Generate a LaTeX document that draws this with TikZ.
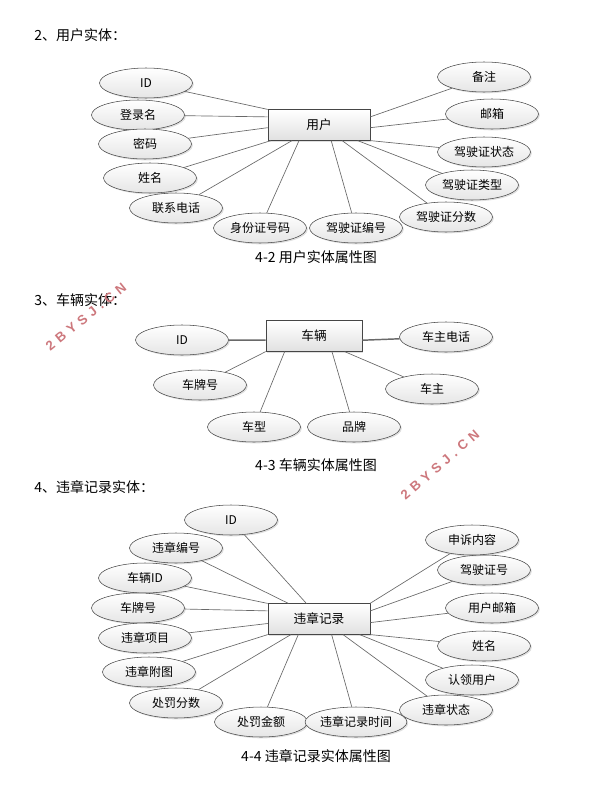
\documentclass[tikz,border=0pt]{standalone}
\usepackage{fontspec}
\setmainfont{Noto Sans CJK SC}
\newfontfamily\wmfont[LetterSpace=36]{Liberation Sans}
\usetikzlibrary{shapes.geometric,shadows}
\definecolor{linegray}{RGB}{105,105,105}
\definecolor{edgegray}{RGB}{70,70,70}
\definecolor{wmred}{RGB}{205,120,125}
\tikzset{
	attr/.style={ellipse, draw=edgegray, top color=white, bottom color=black!10, minimum width=69.75pt, minimum height=22.5pt, inner sep=0pt, font=\fontsize{9}{9}\selectfont, drop shadow={shadow xshift=1pt, shadow yshift=-1pt, opacity=0.25}},
	entity/.style={rectangle, draw=edgegray, top color=white, bottom color=black!12, minimum width=76.5pt, minimum height=23pt, inner sep=0pt, font=\fontsize{9.5}{9.5}\selectfont, drop shadow={shadow xshift=1pt, shadow yshift=-1pt, opacity=0.25}},
	link/.style={draw=linegray, line width=0.5pt},
	head/.style={anchor=west, inner sep=0pt, font=\fontsize{10.5}{10.5}\selectfont},
	figcap/.style={inner sep=0pt, font=\fontsize{10.5}{10.5}\selectfont},
	wmark/.style={text=wmred, inner sep=0pt, font=\wmfont\bfseries\fontsize{10}{10}\selectfont}
}
\begin{document}
\begin{tikzpicture}[x=0.75pt, y=-0.75pt]
	\useasboundingbox (0,0) rectangle (616,796);
	% user
	\node[head] (h1) at (34,35) {2、用户实体：};
	\node[entity] (user) at (319,125) {用户};
	\node[attr] (uid) at (146,83) {ID};
	\node[attr] (ulogin) at (138,115) {登录名};
	\node[attr] (upwd) at (145,144) {密码};
	\node[attr] (uname) at (150,178) {姓名};
	\node[attr] (utel) at (176,208) {联系电话};
	\node[attr] (ucard) at (260,228) {身份证号码};
	\node[attr] (ulicno) at (356,228) {驾驶证编号};
	\node[attr] (ulicpt) at (446,217) {驾驶证分数};
	\node[attr] (ulictype) at (472,185) {驾驶证类型};
	\node[attr] (ulicstate) at (484,152) {驾驶证状态};
	\node[attr] (umail) at (492,114) {邮箱};
	\node[attr] (unote) at (484,77) {备注};
	\foreach \a/\n in {north west/uid, 171/ulogin, 183/upwd, 198/uname, 210/utel, 218/ucard, 308/ulicno, 326/ulicpt, 338/ulictype, south east/ulicstate, 357/umail, 9/unote}
		\draw[link] (user.\a) -- (\n);
	\node[figcap] (c1) at (316,257) {4-2 用户实体属性图};
	% car
	\node[head] (h2) at (34,300) {3、车辆实体：};
	\node[entity, minimum width=72pt] (car) at (314,336) {车辆};
	\node[attr] (cid) at (182,340) {ID};
	\node[attr] (ctel) at (446,337) {车主电话};
	\node[attr] (cplate) at (200,385) {车牌号};
	\node[attr] (cowner) at (432,389) {车主};
	\node[attr] (ctype) at (254,427) {车型};
	\node[attr] (cbrand) at (354,427) {品牌};
	\draw[link, line width=1.1pt] (car.185) -- (cid);
	\draw[link, line width=1.1pt] (car.355) -- (ctel);
	\foreach \a/\n in {south west/cplate, 208/ctype, 319/cbrand, 333/cowner}
		\draw[link] (car.\a) -- (\n);
	\node[figcap] (c2) at (316,465) {4-3 车辆实体属性图};
	% violation
	\node[head] (h3) at (34,487) {4、违章记录实体：};
	\node[entity] (vio) at (319,619) {违章记录};
	\node[attr] (vid) at (231,520) {ID};
	\node[attr] (vno) at (176,548) {违章编号};
	\node[attr] (vcar) at (145,578) {车辆ID};
	\node[attr] (vplate) at (138,608) {车牌号};
	\node[attr] (vitem) at (145,638) {违章项目};
	\node[attr] (vpic) at (149,672) {违章附图};
	\node[attr] (vpt) at (176,703) {处罚分数};
	\node[attr] (vfine) at (261,722) {处罚金额};
	\node[attr] (vtime) at (356,722) {违章记录时间};
	\node[attr] (vstate) at (446,710) {违章状态};
	\node[attr] (vclaim) at (472,680) {认领用户};
	\node[attr] (vname) at (484,646) {姓名};
	\node[attr] (vmail) at (492,608) {用户邮箱};
	\node[attr] (vlic) at (484,570) {驾驶证号};
	\node[attr] (vappeal) at (472,540) {申诉内容};
	\foreach \a/\n in {129/vid, 153/vno, north west/vcar, 171/vplate, 185/vitem, south west/vpic, 209/vpt, 217/vfine, 309/vtime, 327/vstate, 339/vclaim, south east/vname, 356/vmail, 9/vlic, 17/vappeal}
		\draw[link] (vio.\a) -- (\n);
	\node[figcap] (c3) at (316,756) {4-4 违章记录实体属性图};
	% watermarks
	\node[wmark, rotate=39] (w1) at (86,317) {2BYSJ.CN};
	\node[wmark, rotate=41] (w2) at (440,465) {2BYSJ.CN};
\end{tikzpicture}
\end{document}
